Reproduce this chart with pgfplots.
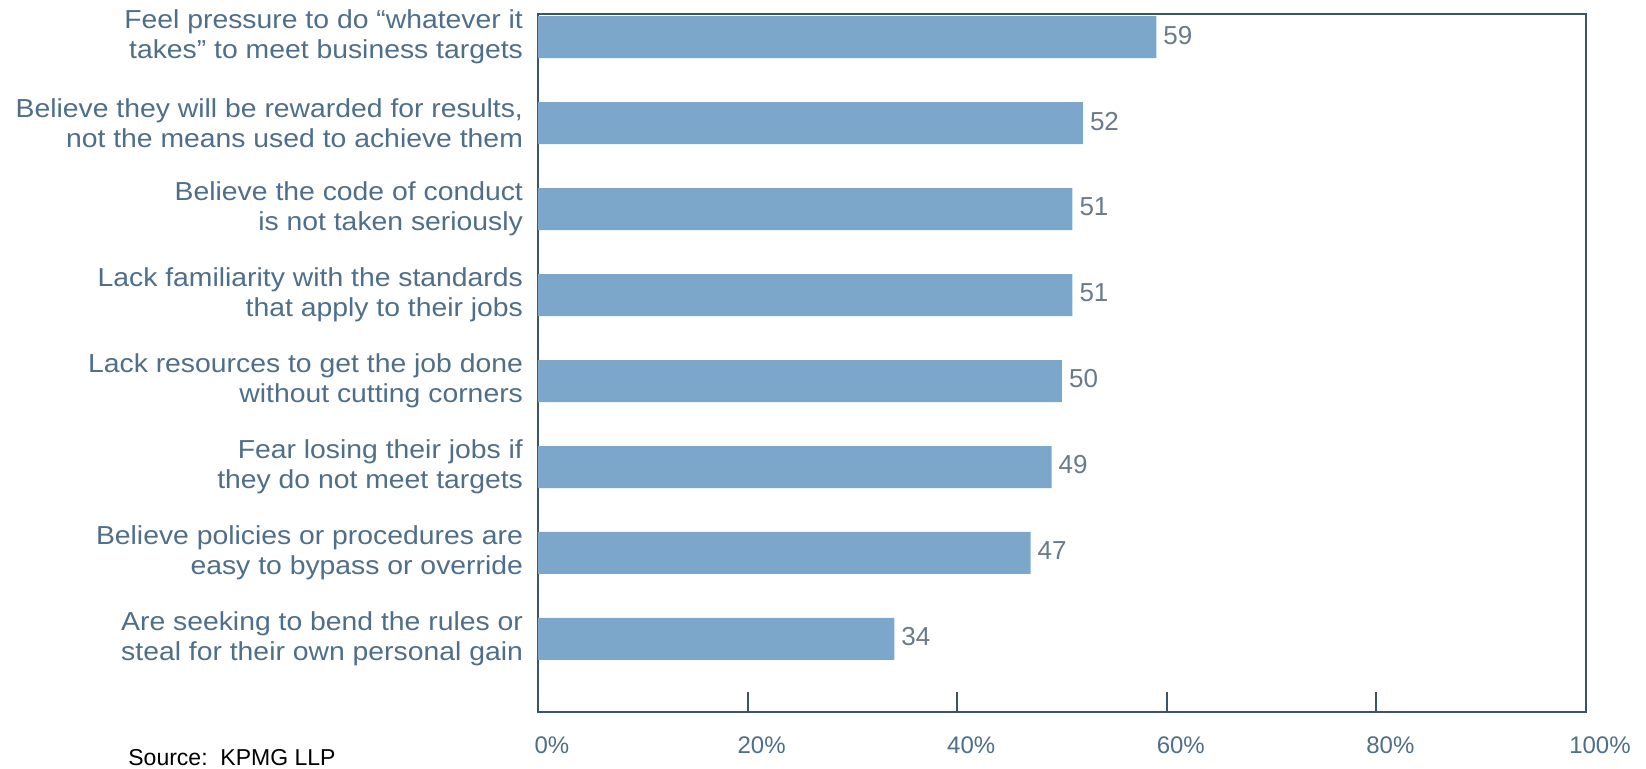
\documentclass[border=0pt]{standalone}
\usepackage{pgfplots}
\pgfplotsset{compat=1.18}
\usepackage{fontspec}
\setmainfont{Liberation Sans}
\newfontfamily\labfont{Liberation Sans}[FakeStretch=1.09]
\definecolor{barblue}{RGB}{124,166,202}
\definecolor{labtext}{RGB}{78,110,138}
\definecolor{axisc}{RGB}{60,84,100}
\definecolor{valtext}{RGB}{105,122,138}
\begin{document}
\begin{tikzpicture}
\begin{axis}[
  at={(0,0)}, anchor=south west,
  scale only axis, width=524pt, height=349pt,
  /pgf/number format/assume math mode=true,
  xbar, bar width=21pt,
  xmin=0, xmax=100,
  ymin=-0.27, ymax=7.85, y dir=reverse,
  ytick={0,...,7},
  yticklabels={
    {Feel pressure to do “whatever it\\takes” to meet business targets},
    {Believe they will be rewarded for results,\\not the means used to achieve them},
    {Believe the code of conduct\\is not taken seriously},
    {Lack familiarity with the standards\\that apply to their jobs},
    {Lack resources to get the job done\\without cutting corners},
    {Fear losing their jobs if\\they do not meet targets},
    {Believe policies or procedures are\\easy to bypass or override},
    {Are seeking to bend the rules or\\steal for their own personal gain}},
  yticklabel style={align=right, font=\labfont\fontsize{13}{15}\selectfont, text=labtext, xshift=-4pt},
  ytick style={draw=none},
  xtick={0,20,40,60,80,100},
  xticklabel={\pgfmathprintnumber{\tick}\%},
  xticklabel style={font=\fontsize{12}{14}\selectfont, text=labtext, yshift=-9pt, xshift=7pt},
  xtick style={axisc, line width=1pt},
  tick align=inside, tick pos=lower,
  major tick length=10pt,
  axis line style={axisc, line width=1pt},
  nodes near coords,
  nodes near coords style={font=\fontsize{13}{15}\selectfont, text=valtext, yshift=1pt},
]
\addplot[fill=barblue, draw=none] coordinates {(59,0) (52,1) (51,2) (51,3) (50,4) (49,5) (47,6) (34,7)};
\end{axis}
\node[anchor=base west, inner sep=0pt, font=\fontsize{11.5}{13}\selectfont, text=black] at (-205pt,-27pt) {Source:\ \ KPMG LLP};
\path[use as bounding box] (-269pt,-28.5pt) rectangle (554pt,356pt);
\end{tikzpicture}
\end{document}
